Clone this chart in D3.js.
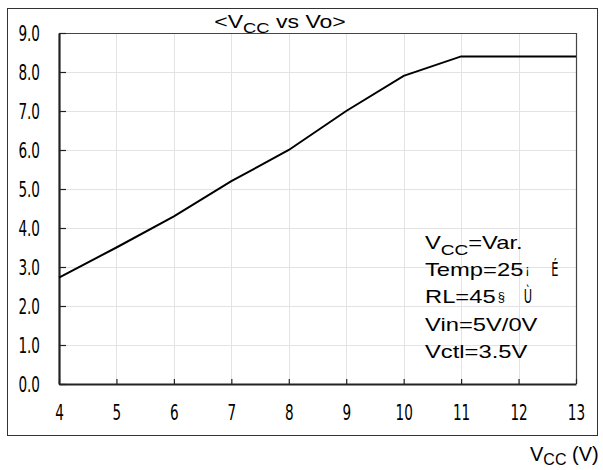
<!DOCTYPE html>
<html>
<head>
<meta charset="utf-8">
<script src="https://cdn.jsdelivr.net/npm/d3@7"></script>
<style>
  html, body { margin: 0; padding: 0; background: #fff; }
  svg { display: block; }
  text { font-family: "Liberation Sans", Arial, sans-serif; fill: #000; }
</style>
</head>
<body>
<svg id="chart" width="603" height="470"></svg>
<script>
// Supply voltage sweep and measured output voltage
const vcc = [4, 5, 6, 7, 8, 9, 10, 11, 12, 13];
const vo  = [2.73, 3.5, 4.3, 5.2, 6.0, 7.0, 7.9, 8.4, 8.4, 8.4];

const xTicks = [4, 5, 6, 7, 8, 9, 10, 11, 12, 13];
const yTicks = [0, 1, 2, 3, 4, 5, 6, 7, 8, 9];

const titleParts = ["<V", "CC", " vs Vo>"];
const xLabelParts = ["V", "CC", " (V)"];
const conditionLines = [
  { parts: ["V", "CC", "=Var."], sub: 1 },
  { parts: ["Temp=25"], mark: "¡", unit: "É" },
  { parts: ["RL=45"], mark: "§", unit: "Ù" },
  { parts: ["Vin=5V/0V"] },
  { parts: ["Vctl=3.5V"] }
];

const svg = d3.select("#chart");
const plot = { left: 59, top: 33, right: 576, bottom: 384 };

const x = d3.scaleLinear().domain([4, 13]).range([plot.left, plot.right]);
const y = d3.scaleLinear().domain([0, 9]).range([plot.bottom, plot.top]);

// outer frame
svg.append("rect")
  .attr("x", 7.5).attr("y", 8.5)
  .attr("width", 590).attr("height", 427)
  .attr("fill", "none").attr("stroke", "#333").attr("stroke-width", 1);

// grid
const grid = svg.append("g").attr("stroke", "#e3e3e3").attr("stroke-width", 1);
grid.selectAll("line.gx").data(xTicks.slice(1, -1)).join("line")
  .attr("x1", d => Math.round(x(d)) + 0.5).attr("x2", d => Math.round(x(d)) + 0.5)
  .attr("y1", plot.top).attr("y2", plot.bottom);
grid.selectAll("line.gy").data(yTicks.slice(1, -1)).join("line")
  .attr("y1", d => Math.round(y(d)) + 0.5).attr("y2", d => Math.round(y(d)) + 0.5)
  .attr("x1", plot.left).attr("x2", plot.right);

// top and right border of the plot area
svg.append("path")
  .attr("d", `M${plot.left},${plot.top + 0.5}H${plot.right + 0.5}V${plot.bottom}`)
  .attr("fill", "none").attr("stroke", "#444").attr("stroke-width", 1.2);

// axes with inward ticks
const xAxis = svg.append("g")
  .attr("transform", `translate(0,${plot.bottom})`)
  .call(d3.axisBottom(x).tickValues(xTicks).tickSize(-5).tickSizeOuter(0).tickFormat(d3.format("d")));
const yAxis = svg.append("g")
  .attr("transform", `translate(${plot.left},0)`)
  .call(d3.axisLeft(y).tickValues(yTicks).tickSize(-7).tickSizeOuter(0).tickFormat(d3.format(".1f")));

[xAxis, yAxis].forEach(g => {
  g.attr("font-size", null);
  g.select(".domain").attr("stroke", "#222").attr("stroke-width", 2.2);
  g.selectAll(".tick line").attr("stroke", "#222").attr("stroke-width", 1.2);
  g.selectAll(".tick text")
    .attr("fill", "#222")
    .style("font-family", "'DejaVu Sans', sans-serif")
    .style("font-size", "20px");
});

// condensed tick labels
xAxis.selectAll(".tick text")
  .attr("y", 0).attr("dy", 0)
  .attr("transform", "translate(0,36) scale(0.68,1.03)");
yAxis.selectAll(".tick text")
  .attr("x", 0).attr("dy", 0)
  .attr("text-anchor", "end")
  .attr("transform", "translate(-19,7.5) scale(0.68,1.03)");

// data line
svg.append("path")
  .datum(vcc.map((v, i) => [v, vo[i]]))
  .attr("d", d3.line().x(d => x(d[0])).y(d => y(d[1])))
  .attr("fill", "none").attr("stroke", "#000").attr("stroke-width", 2);

// text with an optional subscript part, stretched horizontally by sx
function richText(px, py, parts, subIndex, size, sx, anchor, subShift) {
  const shift = subShift === undefined ? 0.3 : subShift;
  const g = svg.append("g").attr("transform", `translate(${px},${py}) scale(${sx},1)`);
  const t = g.append("text").style("font-size", size + "px")
    .attr("text-anchor", anchor || "start");
  parts.forEach((p, i) => {
    const s = t.append("tspan").text(p);
    if (i === subIndex) s.attr("dy", size * shift).style("font-size", (size * 0.8) + "px");
    else if (subIndex >= 0 && i === subIndex + 1) s.attr("dy", -size * shift);
  });
  return { g, t, sx };
}

// title
richText(280, 28, titleParts, 1, 18, 1.28, "middle");

// x-axis label
richText(530, 461, xLabelParts, 1, 20, 1.0, "start", 0.22);

// test conditions
conditionLines.forEach((line, i) => {
  const yy = 249 + i * 27.2;
  const r = richText(425, yy, line.parts, line.sub === undefined ? -1 : line.sub, 19, 1.25, "start");
  if (line.mark) {
    const w = r.t.node().getComputedTextLength() * r.sx;
    svg.append("text")
      .attr("x", 425 + w + 2).attr("y", yy - 2)
      .style("font-size", "13px").text(line.mark);
    svg.append("g")
      .attr("transform", `translate(${425 + w + 28},${yy}) scale(0.6,1.05)`)
      .append("text").style("font-size", "19px")
      .style("font-family", "'DejaVu Sans', sans-serif")
      .text(line.unit);
  }
});
</script>
</body>
</html>
